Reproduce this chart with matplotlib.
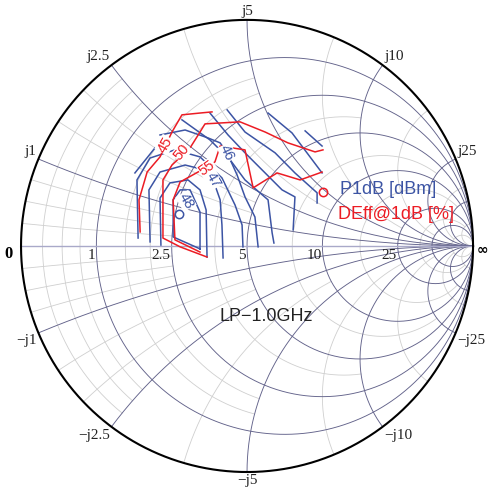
import numpy as np
import matplotlib
matplotlib.use("Agg")
import matplotlib.pyplot as plt

# Smith chart normalised to Z0 = 5 ohm
z0 = 5.0
major = [0.2, 0.5, 1, 2, 5, 10]
labelled = [0.2, 0.5, 1, 2, 5]
# (value, how far the minor line is drawn)
minor = [(0.05, 0.5), (0.1, 0.5), (0.15, 0.5), (0.3, 1), (0.4, 1),
         (0.75, 2), (1.5, 5), (3, 10), (7.5, 20), (20, np.inf)]

# contour traces, reflection coefficient (re, im)
p1db = [
    [(0.257, 0.509), (0.332, 0.442)],
    [(0.093, 0.588), (0.199, 0.500), (0.332, 0.323)],
    [(-0.088, 0.602), (-0.009, 0.504), (0.124, 0.412), (0.212, 0.323), (0.310, 0.235), (0.310, 0.190)],
    [(-0.164, 0.588), (-0.084, 0.491), (-0.009, 0.412), (0.080, 0.323), (0.155, 0.248), (0.212, 0.217), (0.204, 0.071)],
    [(-0.288, 0.558), (-0.164, 0.469), (-0.075, 0.381), (-0.009, 0.292), (0.093, 0.204), (0.111, 0.058), (0.119, 0.013)],
    [(-0.385, 0.491), (-0.274, 0.513), (-0.173, 0.478), (-0.119, 0.456), (-0.088, 0.412), (-0.044, 0.314),
     (-0.009, 0.217), (0.035, 0.128), (0.049, -0.004)],
    [(-0.482, 0.035), (-0.487, 0.292), (-0.429, 0.389), (-0.319, 0.425), (-0.208, 0.394), (-0.111, 0.301),
     (-0.053, 0.181), (-0.022, 0.093), (-0.018, -0.004)],
    [(-0.429, 0.018), (-0.434, 0.248), (-0.385, 0.327), (-0.274, 0.358), (-0.186, 0.336), (-0.150, 0.292),
     (-0.119, 0.204), (-0.111, 0.093), (-0.106, -0.053)],
    [(-0.381, 0.004), (-0.385, 0.212), (-0.341, 0.279), (-0.261, 0.292), (-0.208, 0.248), (-0.181, 0.159), (-0.177, -0.049)],
    [(-0.208, -0.013), (-0.208, 0.150), (-0.252, 0.248), (-0.296, 0.248), (-0.327, 0.204), (-0.327, 0.040), (-0.208, -0.013)],
    [(-0.496, 0.323), (-0.407, 0.434)],
]
deff = [
    [(-0.473, 0.062), (-0.478, 0.204), (-0.442, 0.327), (-0.385, 0.394), (-0.332, 0.504), (-0.288, 0.580),
     (-0.208, 0.588), (-0.155, 0.593)],
    [(-0.177, -0.049), (-0.296, -0.004), (-0.372, 0.035), (-0.372, 0.292), (-0.332, 0.358), (-0.252, 0.434),
     (-0.208, 0.504), (-0.186, 0.540), (-0.031, 0.549), (0.080, 0.504), (0.181, 0.456), (0.301, 0.416), (0.336, 0.425)],
    [(-0.208, -0.027), (-0.319, 0.027), (-0.327, 0.204), (-0.296, 0.283), (-0.217, 0.327), (-0.181, 0.345),
     (-0.142, 0.372), (-0.119, 0.442), (-0.009, 0.425), (0.027, 0.257), (0.133, 0.323), (0.235, 0.292), (0.332, 0.327)],
]
p1db_max = (-0.301, 0.142)
deff_max = (0.336, 0.239)
p1db_labels = [("46", (-0.088, 0.412), -65), ("47", (-0.150, 0.292), -60), ("48", (-0.270, 0.199), -60)]
deff_labels = [("45", (-0.363, 0.447), 60), ("50", (-0.288, 0.416), 50), ("55", (-0.177, 0.345), 35)]

dark = "#62628a"
light = "#cfcfcf"
blue = "#3c54a4"
red = "#ec1c24"


def gamma(z):
    return (z - 1) / (z + 1)


def r_line(r, xmax):
    t = np.arctan(xmax)
    z = r + 1j * np.tan(np.linspace(-t, t, 600))
    return gamma(z)


def x_line(x, rmax):
    t = np.arctan(rmax)
    z = np.tan(np.linspace(0, t * 0.99999, 600)) + 1j * x
    return gamma(z)


fig = plt.figure(figsize=(4.90, 4.91), dpi=100)
ax = fig.add_axes([0, 0, 1, 1])
ax.set_xlim(-1.093, 1.075)
ax.set_ylim(-1.084, 1.088)
ax.axis("off")

for v, lim in minor:
    g = r_line(v, lim)
    ax.plot(g.real, g.imag, color=light, lw=0.6, zorder=1)
    for s in (1, -1):
        g = x_line(s * v, lim)
        ax.plot(g.real, g.imag, color=light, lw=0.6, zorder=1)

th = np.linspace(0, 2 * np.pi, 800)
for v in major:
    c, rad = v / (1 + v), 1 / (1 + v)
    ax.plot(c + rad * np.cos(th), rad * np.sin(th), color=dark, lw=0.65, zorder=2)
    for s in (1, -1):
        g = x_line(s * v, np.inf)
        ax.plot(g.real, g.imag, color=dark, lw=0.65, zorder=2)
ax.plot([-1, 1], [0, 0], color="#a9a9c9", lw=1.0, zorder=2)
ax.plot(np.cos(th), np.sin(th), color="black", lw=1.5, zorder=3)

serif = dict(family="Liberation Serif", fontsize=11, color="#222222")
for v in labelled:
    gr = (v - 1) / (v + 1)
    ax.text(gr - 0.004, -0.012, f"{v * z0:g}", ha="right", va="top", zorder=4, **serif)
    for s in (1, -1):
        g = gamma(1j * s * v)
        ha = "right" if g.real < -0.05 else ("left" if g.real > 0.05 else "center")
        va = "bottom" if s > 0 else "top"
        lab = ("j" if s > 0 else "\u2212j") + f"{v * z0:g}"
        ax.text(g.real * 1.01, g.imag * 1.01, lab, ha=ha, va=va, zorder=4, **serif)
ax.text(-1.035, -0.035, "0", ha="right", va="center", fontweight="bold",
        family="Liberation Serif", fontsize=12)
ax.text(1.015, -0.02, "\u221e", ha="left", va="center", fontweight="bold",
        family="DejaVu Sans", fontsize=10)

for line in p1db:
    a = np.array(line)
    ax.plot(a[:, 0], a[:, 1], color=blue, lw=1.1, zorder=5)
for line in deff:
    a = np.array(line)
    ax.plot(a[:, 0], a[:, 1], color=red, lw=1.1, zorder=6)
ax.plot(*p1db_max, "o", mfc="none", mec=blue, ms=6, mew=1.1, zorder=7)
ax.plot(*deff_max, "o", mfc="none", mec=red, ms=6, mew=1.1, zorder=7)

box = dict(facecolor="white", edgecolor="none", pad=0.3)
for txt, pos, rot in p1db_labels:
    ax.text(*pos, txt, color=blue, fontsize=10.5, rotation=rot, ha="center", va="center",
            family="Liberation Sans", zorder=8, bbox=box)
for txt, pos, rot in deff_labels:
    ax.text(*pos, txt, color=red, fontsize=10.5, rotation=rot, ha="center", va="center",
            family="Liberation Sans", zorder=8, bbox=box)

sans = dict(family="Liberation Sans", fontsize=13)
ax.text(0.412, 0.248, "P1dB [dBm]", color=blue, ha="left", va="center", **sans)
ax.text(0.403, 0.137, "DEff@1dB [%]", color=red, ha="left", va="center", **sans)
ax.text(0.084, -0.310, "LP\u22121.0GHz", color="#222222", ha="center", va="center", **sans)

fig.savefig("out.png", dpi=100)
